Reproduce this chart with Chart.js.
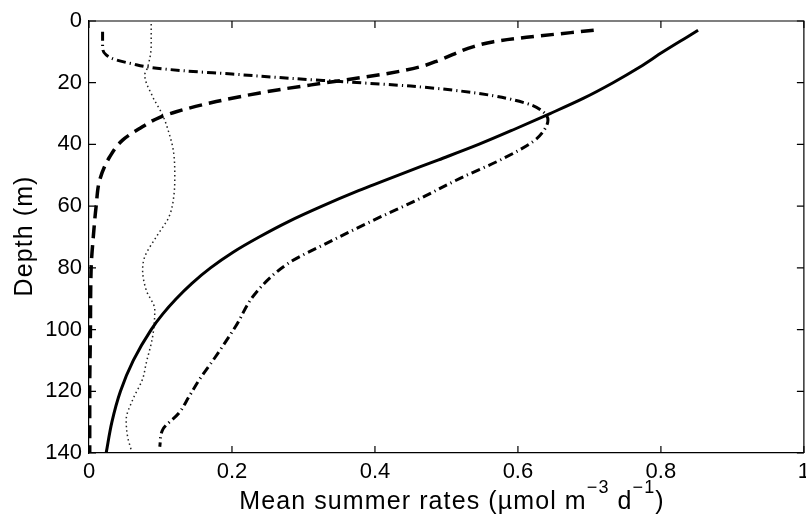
<!DOCTYPE html>
<html>
<head>
<meta charset="utf-8">
<script src="https://cdn.jsdelivr.net/npm/chart.js@4/dist/chart.umd.min.js"></script>
<style>
	body { margin: 0; overflow: hidden; background: #fff; }
	#box { width: 816px; height: 517px; }
</style>
</head>
<body>
<div id="box"><canvas id="chart"></canvas></div>
<script>
// depth (m) and rate pairs
const solidDepth = [3, 5, 10, 15, 20, 25, 30, 35, 40, 45, 50, 55, 60, 65, 70, 75, 80, 85, 90, 95, 100, 110, 120, 130, 140]
const solidRate = [0.852, 0.838, 0.803, 0.77, 0.733, 0.692, 0.645, 0.596, 0.545, 0.489, 0.432, 0.377, 0.326, 0.279, 0.238, 0.201, 0.17, 0.144, 0.122, 0.103, 0.087, 0.062, 0.044, 0.032, 0.024]

const dashDepth = [3, 5.3, 6.7, 8.3, 12.6, 14.8, 17, 19.1, 20.7, 22.1, 23.4, 26.1, 29.4, 31.2, 34.8, 38.6, 44, 51.5, 60, 70, 80, 100, 120, 140]
const dashRate = [0.706, 0.612, 0.566, 0.538, 0.491, 0.464, 0.418, 0.358, 0.311, 0.27, 0.237, 0.178, 0.122, 0.099, 0.071, 0.047, 0.029, 0.015, 0.01, 0.006, 0.003, 0.002, 0.001, 0.001]

const dashDotDepth = [3.5, 8.3, 11, 12.6, 13.9, 15, 16.1, 17.2, 18.6, 19.7, 21.1, 23.4, 26.7, 29.4, 32.1, 35.9, 39.1, 44.5, 51, 58, 63.9, 71.5, 78.5, 88.2, 99, 108.8, 116, 121.7, 127, 132.5, 138]
const dashDotRate = [0.019, 0.019, 0.024, 0.038, 0.061, 0.085, 0.131, 0.2, 0.283, 0.358, 0.45, 0.543, 0.612, 0.635, 0.642, 0.635, 0.621, 0.58, 0.519, 0.459, 0.404, 0.337, 0.279, 0.233, 0.205, 0.177, 0.155, 0.14, 0.126, 0.103, 0.099]

const dotDepth = [1, 8, 15, 17.5, 24.5, 30.5, 36.4, 42, 50, 56, 63.4, 70, 76.4, 80.7, 87.2, 93.6, 102.3, 110.9, 116, 122.8, 129.3, 134.7, 139]
const dotRate = [0.087, 0.087, 0.082, 0.078, 0.089, 0.103, 0.112, 0.118, 0.12, 0.119, 0.112, 0.094, 0.078, 0.075, 0.08, 0.092, 0.089, 0.08, 0.075, 0.061, 0.052, 0.054, 0.059]

const xTitle = ["Mean summer rates (\u00b5mol m", "\u22123", " d", "\u22121", ")"]
const yTitle = "Depth (m)"

const FONT = "'Liberation Sans', Arial, sans-serif"

function points(depth, rate) {
	let out = []
	for (let i = 0; i < depth.length; i++) {
		out.push({ x: rate[i], y: depth[i] })
	}
	return out
}

function line(depth, rate, width, dash, color) {
	return {
		data: points(depth, rate),
		showLine: true,
		borderColor: color,
		borderWidth: width,
		borderDash: dash,
		borderCapStyle: 'butt',
		pointRadius: 0,
		cubicInterpolationMode: 'monotone',
		fill: false,
	}
}

// inner ticks on all four sides, top/right frame and the axis titles
const frame = {
	id: 'frame',
	afterDraw(chart) {
		const ctx = chart.ctx
		const a = chart.chartArea
		const xs = chart.scales.x
		const ys = chart.scales.y
		ctx.save()
		ctx.strokeStyle = '#000'
		ctx.lineWidth = 1.2
		ctx.beginPath()
		ctx.moveTo(a.left, a.top)
		ctx.lineTo(a.right, a.top)
		ctx.lineTo(a.right, a.bottom)
		ctx.stroke()
		ctx.beginPath()
		xs.ticks.forEach(t => {
			let px = xs.getPixelForValue(t.value)
			ctx.moveTo(px, a.bottom)
			ctx.lineTo(px, a.bottom - 7)
			ctx.moveTo(px, a.top)
			ctx.lineTo(px, a.top + 7)
		})
		ys.ticks.forEach(t => {
			let py = ys.getPixelForValue(t.value)
			ctx.moveTo(a.left, py)
			ctx.lineTo(a.left + 7, py)
			ctx.moveTo(a.right, py)
			ctx.lineTo(a.right - 7, py)
		})
		ctx.stroke()

		ctx.fillStyle = '#000'
		ctx.textBaseline = 'alphabetic'
		ctx.letterSpacing = '1.1px'
		const big = "25px " + FONT
		const sup = "18px " + FONT
		let widths = xTitle.map((s, i) => {
			ctx.font = i % 2 ? sup : big
			return ctx.measureText(s).width
		})
		let total = widths.reduce((s, w) => s + w, 0)
		let x = 452 - total / 2
		let base = 509
		ctx.textAlign = 'left'
		xTitle.forEach((s, i) => {
			ctx.font = i % 2 ? sup : big
			ctx.fillText(s, x, i % 2 ? base - 16 : base)
			x += widths[i]
		})

		ctx.font = big
		ctx.translate(32, 236)
		ctx.rotate(-Math.PI / 2)
		ctx.textAlign = 'center'
		ctx.fillText(yTitle, 0, 0)
		ctx.restore()
	}
}

let chart = new Chart(document.getElementById("chart"), {
	type: 'scatter',
	data: {
		datasets: [
			line(solidDepth, solidRate, 3, [], '#000'),
			line(dashDepth, dashRate, 3.5, [13, 7], '#000'),
			line(dashDotDepth, dashDotRate, 3, [9, 4, 1.2, 4], '#000'),
			line(dotDepth, dotRate, 1.5, [1.5, 3], '#222'),
		],
	},
	options: {
		animation: false,
		responsive: true,
		maintainAspectRatio: false,
		indexAxis: 'y',
		layout: {
			padding: { left: 0, top: 21, right: 7, bottom: 0 },
		},
		plugins: {
			legend: { display: false },
			tooltip: { enabled: false },
		},
		scales: {
			x: {
				type: 'linear',
				min: 0,
				max: 1,
				ticks: {
					stepSize: 0.2,
					padding: 6,
					color: '#000',
					font: { family: FONT, size: 22 },
					maxRotation: 0,
					callback: v => String(+v.toFixed(1)),
				},
				grid: { display: true, drawOnChartArea: false, drawTicks: false },
				border: { display: true, color: '#000', width: 1.2 },
				afterFit(scale) { scale.height = 64 },
			},
			y: {
				type: 'linear',
				reverse: true,
				min: 0,
				max: 140,
				ticks: {
					stepSize: 20,
					padding: 7,
					color: '#000',
					font: { family: FONT, size: 22 },
				},
				grid: { display: true, drawOnChartArea: false, drawTicks: false },
				border: { display: true, color: '#000', width: 1.2 },
				afterFit(scale) { scale.width = 89 },
			},
		},
	},
	plugins: [frame],
});
</script>
</body>
</html>
